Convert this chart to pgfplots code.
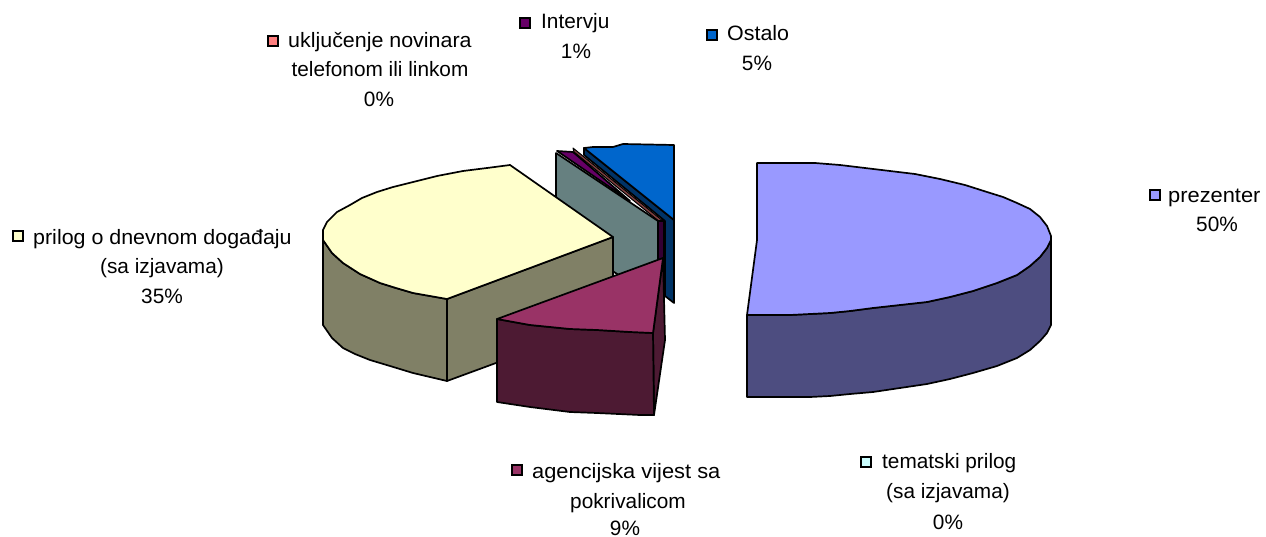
\documentclass[border=0pt]{standalone}
\usepackage{fontspec}
\setmainfont{Liberation Sans}
\usepackage{pgfplots}
\pgfplotsset{compat=1.18}
\definecolor{pTop}{HTML}{9999FF}\definecolor{pSide}{HTML}{4D4D80}
\definecolor{yTop}{HTML}{FFFFCC}\definecolor{ySide}{HTML}{808066}
\definecolor{mTop}{HTML}{993366}\definecolor{mSide}{HTML}{4D1A33}
\definecolor{tTop}{HTML}{CCFFFF}\definecolor{tSide}{HTML}{668080}
\definecolor{rTop}{HTML}{FF8080}\definecolor{rSide}{HTML}{804040}
\definecolor{vTop}{HTML}{660066}\definecolor{vSide}{HTML}{330033}
\definecolor{bTop}{HTML}{0066CC}\definecolor{bSide}{HTML}{003366}
\pgfplotsset{slice/.style={draw=black,line width=1.7bp,line join=round,fill=#1},
 key/.style={only marks,mark=square*,mark size=5.2bp,mark options={fill=#1,draw=black,line width=1.8bp}}}
\newcommand{\lab}[3]{\node[anchor=base,inner sep=0pt,font=\fontsize{20.8bp}{22bp}\selectfont] at (axis cs:#1,#2) {#3};}
\newcommand{\labl}[3]{\node[anchor=base west,inner sep=0pt,font=\fontsize{20.8bp}{22bp}\selectfont] at (axis cs:#1,#2) {#3};}
\begin{document}
\begin{tikzpicture}
\path[use as bounding box] (0,0) rectangle (1266bp,537bp);
\begin{axis}[at={(0,0)},anchor=south west,scale only axis,width=1266bp,height=537bp,
 xmin=0,xmax=1266,ymin=0,ymax=537,y dir=reverse,hide axis,clip=false]
% Ostalo
\addplot[slice=bSide] coordinates {(584,148)(674,220)(674,303)(665,296)(665,221)(584,155)} -- cycle;
\addplot[slice=bTop] coordinates {(584,148)(593,147)(613,147)(623,144)(674,145)(674,220)} -- cycle;
% uključenje
\addplot[slice=rSide,line width=1bp] coordinates {(573,148)(663,221)(661,223)(574,152)} -- cycle;
% Intervju
\addplot[slice=vTop] coordinates {(557,151)(573,152)(630,201)} -- cycle;
\addplot[slice=vSide] coordinates {(658,221)(664,221)(664,300)(658,300)} -- cycle;
% tematski
\addplot[slice=tSide] coordinates {(556,153)(658,221)(658,300)(556,235)} -- cycle;
% prilog
\addplot[slice=ySide] coordinates {(447,299)(613,237)(613,320)(447,381)} -- cycle;
\addplot[slice=ySide] coordinates {(323,240)(332,253)(343,263)(360,274)(380,283)(396,288)(413,293)(430,296)(447,299)(447,381)(430,377)(413,373)(390,366)(370,360)(355,354)(343,348)(332,338)(323,325)} -- cycle;
\addplot[slice=yTop] coordinates {(510,165)(487,168)(463,171)(437,176)(413,182)(393,187)(377,192)(362,198)(350,205)(337,212)(327,222)(323,230)(323,240)(332,253)(343,263)(360,274)(380,283)(396,288)(413,293)(430,296)(447,299)(613,237)} -- cycle;
% agencijska
\addplot[slice=mSide] coordinates {(653,333)(663,258)(665,340)(654,415)} -- cycle;
\addplot[slice=mSide] coordinates {(497,319)(530,325)(570,329)(597,330)(630,332)(653,333)(654,415)(640,415)(597,413)(570,412)(530,407)(497,402)} -- cycle;
\addplot[slice=mTop] coordinates {(663,258)(497,319)(530,325)(570,329)(597,330)(630,332)(653,333)} -- cycle;
% prezenter
\addplot[slice=pSide] coordinates {(747,315)(790,315)(810,314)(830,313)(850,311)(873,308)(900,305)(927,302)(950,297)(973,291)(997,283)(1017,275)(1030,266)(1040,257)(1047,248)(1051,240)(1051,325)(1047,333)(1040,341)(1030,350)(1017,358)(997,366)(973,373)(950,379)(927,384)(900,388)(873,392)(850,394)(830,396)(810,397)(790,397)(747,397)} -- cycle;
\addplot[slice=pTop] coordinates {(757,163)(815,163)(840,165)(865,168)(890,171)(915,174)(940,179)(965,185)(987,192)(1003,197)(1017,203)(1030,209)(1040,217)(1047,226)(1051,236)(1051,240)(1047,248)(1040,257)(1030,266)(1017,275)(997,283)(973,291)(950,297)(927,302)(900,305)(873,308)(850,311)(830,313)(810,314)(790,315)(747,315)(757,240)} -- cycle;
% legend keys
\addplot[key=pTop] coordinates {(1155,195)};
\addplot[key=yTop] coordinates {(18,236)};
\addplot[key=mTop] coordinates {(517,470)};
\addplot[key=tTop] coordinates {(866,462)};
\addplot[key=rTop] coordinates {(273,41)};
\addplot[key=vTop] coordinates {(525,23)};
\addplot[key=bTop] coordinates {(712,35)};
% labels
\labl{1168}{202}{\scalebox{1.05}[1]{prezenter}}\lab{1217}{231}{50\%}
\labl{33}{244}{\scalebox{1.03}[1]{prilog o dnevnom događaju}}\lab{162}{273}{(sa izjavama)}\lab{162}{303}{35\%}
\labl{532}{478}{\scalebox{1.05}[1]{agencijska vijest sa}}\lab{628}{508}{pokrivalicom}\lab{625}{535}{9\%}
\labl{882}{468}{tematski prilog}\lab{948}{498}{(sa izjavama)}\lab{948}{529}{0\%}
\labl{288}{48}{\scalebox{1.03}[1]{uključenje novinara}}\lab{380}{77}{telefonom ili linkom}\lab{379}{107}{0\%}
\labl{541}{29}{Intervju}\lab{576}{59}{1\%}
\labl{727}{41}{\scalebox{1.03}[1]{Ostalo}}\lab{757}{71}{5\%}
\end{axis}
\end{tikzpicture}
\end{document}
